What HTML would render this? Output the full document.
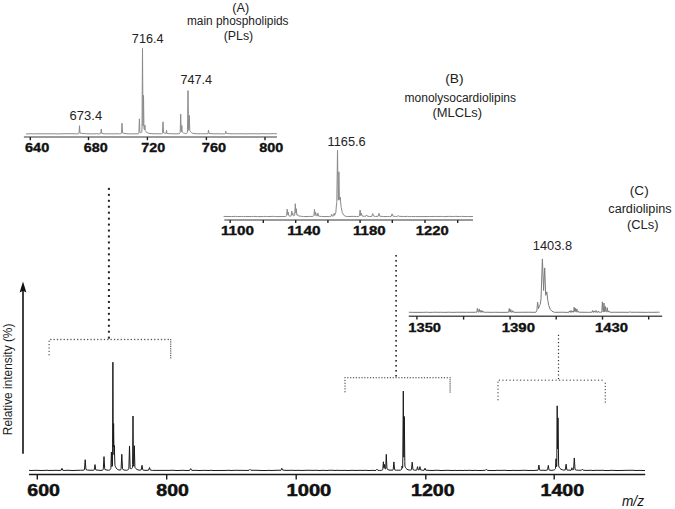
<!DOCTYPE html>
<html><head><meta charset="utf-8"><style>
html,body{margin:0;padding:0;background:#fff;}
body{width:675px;height:509px;overflow:hidden;}
svg{display:block;}
</style></head><body>
<svg width="675" height="509" viewBox="0 0 675 509">
<rect width="675" height="509" fill="#fff"/>
<path d="M29.00,470.29 L31.00,470.50 L35.00,470.33 L43.00,470.49 L47.00,470.26 L49.00,470.50 L51.00,470.38 L53.00,470.48 L55.00,470.25 L59.00,470.46 L61.00,470.24 L61.20,470.24 L62.00,468.33 L62.70,470.24 L64.90,470.48 L67.00,470.25 L73.00,470.53 L77.00,470.31 L80.50,470.28 L83.10,470.20 L84.20,469.93 L84.40,469.83 L84.50,469.03 L85.20,459.68 L85.90,469.05 L86.00,469.61 L87.30,470.04 L91.00,470.28 L93.50,470.20 L94.20,470.07 L94.30,469.64 L95.00,464.59 L95.70,469.65 L95.80,469.94 L98.10,470.19 L101.00,470.43 L102.40,470.16 L103.20,469.73 L103.30,468.70 L104.00,456.63 L104.70,468.71 L104.80,469.43 L106.00,469.89 L108.30,470.24 L109.10,470.21 L109.90,469.84 L110.50,469.22 L110.80,468.72 L110.90,467.43 L111.40,451.96 L111.80,464.25 L111.90,466.64 L112.20,466.05 L112.50,465.07 L112.60,443.31 L112.90,362.20 L113.20,443.27 L113.30,446.90 L113.60,423.51 L114.00,454.72 L114.30,445.53 L114.90,464.15 L115.00,465.45 L115.50,466.79 L116.10,467.95 L116.80,468.86 L117.70,469.54 L118.90,469.96 L120.00,470.02 L120.80,469.75 L121.00,469.62 L121.10,468.50 L121.80,454.27 L122.50,468.39 L122.60,469.18 L123.90,469.88 L125.10,470.22 L126.70,470.23 L127.70,469.95 L128.40,469.45 L128.80,468.94 L128.90,466.86 L129.50,445.96 L130.10,466.90 L130.20,468.28 L130.80,468.70 L131.40,468.75 L131.90,468.42 L132.30,467.81 L132.50,467.34 L132.60,464.44 L133.00,416.01 L133.40,464.46 L133.50,466.12 L133.70,466.19 L133.80,463.42 L134.30,445.71 L134.90,466.96 L135.10,467.53 L135.80,468.54 L136.70,469.32 L138.00,469.92 L139.20,470.15 L140.80,470.03 L141.20,469.95 L141.30,469.64 L142.00,465.29 L142.70,469.69 L142.80,469.93 L145.00,470.39 L148.10,470.25 L148.60,470.18 L149.50,467.53 L150.30,470.06 L152.30,470.39 L161.00,470.40 L169.00,470.40 L173.00,470.26 L177.00,470.54 L183.00,470.30 L187.00,470.54 L189.70,470.39 L190.70,468.62 L191.60,470.26 L193.00,470.46 L195.00,470.30 L199.00,470.53 L205.00,470.33 L209.00,470.54 L211.00,470.25 L213.00,470.49 L221.00,470.49 L227.00,470.38 L229.00,470.27 L231.00,470.51 L235.00,470.31 L247.00,470.43 L249.00,470.39 L250.00,469.31 L250.90,470.28 L257.00,470.30 L261.00,470.51 L267.00,470.49 L269.00,470.33 L271.00,470.50 L277.00,470.25 L279.00,470.24 L280.80,470.37 L281.80,468.32 L282.70,470.14 L287.00,470.43 L291.00,470.27 L295.00,470.41 L299.00,470.33 L301.00,470.46 L305.00,470.35 L309.00,470.26 L313.00,470.38 L317.00,470.28 L319.00,470.52 L323.00,470.31 L327.00,470.50 L329.00,470.26 L333.00,470.29 L335.00,470.47 L337.00,470.30 L341.00,470.45 L345.00,470.32 L347.00,470.54 L353.00,470.32 L355.00,470.44 L361.00,470.35 L363.00,470.44 L365.00,470.27 L369.00,470.54 L373.00,470.34 L375.00,470.49 L376.00,470.38 L377.00,469.24 L377.90,470.32 L379.40,470.47 L381.30,470.32 L382.30,470.01 L382.70,469.77 L382.80,469.16 L383.40,461.77 L383.90,467.90 L384.00,467.40 L384.40,464.44 L385.00,468.85 L385.30,468.97 L385.60,468.83 L385.70,468.03 L386.30,454.38 L386.90,467.98 L387.00,468.77 L388.00,469.59 L389.00,470.09 L391.00,470.10 L392.50,470.17 L393.10,470.04 L393.20,469.43 L393.90,461.92 L394.60,469.46 L394.70,469.89 L396.30,470.22 L398.80,470.21 L400.30,470.15 L401.00,469.92 L401.60,469.39 L401.70,468.99 L402.10,465.93 L402.30,467.46 L402.40,468.11 L402.70,467.42 L402.80,457.29 L403.30,391.03 L403.80,457.26 L403.90,452.51 L404.30,416.49 L404.80,461.47 L404.90,466.15 L405.40,467.29 L406.10,468.39 L406.90,469.17 L408.00,469.75 L409.60,470.08 L410.90,470.02 L411.40,469.87 L411.50,469.32 L412.20,462.13 L412.90,469.29 L413.00,469.68 L414.70,470.19 L416.30,470.20 L416.70,470.13 L416.80,469.92 L417.50,466.66 L418.20,469.87 L419.10,469.95 L419.20,469.84 L419.90,466.60 L420.60,469.82 L422.50,470.28 L424.10,470.26 L425.00,468.24 L425.80,470.13 L428.00,470.33 L433.00,470.52 L435.00,470.25 L439.00,470.35 L441.00,470.55 L447.00,470.31 L453.00,470.53 L455.00,470.35 L457.00,470.51 L461.00,470.40 L463.00,470.55 L465.00,470.32 L467.00,470.47 L469.00,470.28 L473.00,470.52 L475.00,470.31 L477.00,470.48 L481.00,470.50 L485.30,470.31 L486.30,469.24 L487.20,470.24 L489.00,470.49 L495.00,470.52 L497.00,470.29 L499.00,470.42 L505.00,470.27 L507.00,470.51 L511.00,470.50 L513.00,470.35 L517.00,470.48 L525.00,470.27 L529.00,470.52 L531.00,470.42 L533.00,470.53 L537.00,470.25 L538.10,470.15 L538.20,469.75 L538.90,465.08 L539.60,469.81 L539.70,470.10 L541.00,470.32 L543.00,470.20 L545.00,470.42 L547.40,470.06 L547.50,470.03 L547.60,469.67 L548.30,465.38 L549.00,469.67 L549.10,469.94 L551.00,470.40 L553.70,470.04 L554.60,469.69 L555.20,469.15 L555.40,468.88 L555.50,468.43 L556.00,458.73 L556.40,466.58 L556.50,466.87 L556.70,466.36 L556.80,463.34 L557.20,405.83 L557.50,448.94 L557.60,447.95 L558.00,417.86 L558.60,462.90 L558.70,465.99 L559.30,467.33 L560.00,468.37 L560.90,469.17 L562.10,469.76 L563.80,470.07 L565.30,469.97 L565.40,469.58 L566.10,464.21 L566.80,469.68 L566.90,469.99 L568.90,470.14 L570.90,470.33 L571.10,470.30 L571.20,470.17 L571.90,467.75 L572.50,469.73 L572.60,469.95 L573.50,469.66 L573.60,468.85 L574.30,457.98 L575.00,468.98 L575.10,469.58 L576.50,470.13 L578.70,470.26 L581.40,470.27 L582.40,469.17 L583.30,470.26 L587.00,470.44 L591.00,470.25 L593.00,470.54 L595.00,470.34 L601.00,470.34 L603.00,470.27 L605.00,470.52 L609.00,470.54 L611.00,470.28 L617.00,470.54 L623.00,470.45 L625.00,470.33 L633.00,470.27 L637.00,470.55 L639.00,470.38 L645.00,470.53" fill="none" stroke="#1a1a1a" stroke-width="1"/>
<line x1="29" y1="474.5" x2="645.2" y2="474.5" stroke="#1a1a1a" stroke-width="1.3"/>
<line x1="37.3" y1="474.5" x2="37.3" y2="479.4" stroke="#1a1a1a" stroke-width="1.4"/>
<line x1="166.7" y1="474.5" x2="166.7" y2="479.4" stroke="#1a1a1a" stroke-width="1.4"/>
<line x1="296.2" y1="474.5" x2="296.2" y2="479.4" stroke="#1a1a1a" stroke-width="1.4"/>
<line x1="425.8" y1="474.5" x2="425.8" y2="479.4" stroke="#1a1a1a" stroke-width="1.4"/>
<line x1="554.2" y1="474.5" x2="554.2" y2="479.4" stroke="#1a1a1a" stroke-width="1.4"/>
<line x1="23" y1="290" x2="23" y2="453.8" stroke="#111" stroke-width="1.6"/>
<path d="M23,281.6 L26.4,292.6 L23,290.8 L19.6,292.6 Z" fill="#111"/>
<text transform="translate(12.2,435.2) rotate(-90)" textLength="111.6" lengthAdjust="spacingAndGlyphs" style="font-family:&quot;Liberation Sans&quot;,sans-serif;font-size:12px" fill="#1a1a1a">Relative intensity (%)</text>
<path d="M26.10,133.91 L28.10,133.91 L30.10,133.69 L34.10,133.88 L40.10,133.75 L46.10,133.82 L52.10,133.77 L58.10,133.91 L66.10,133.69 L74.10,133.77 L76.10,133.89 L78.30,133.72 L78.90,133.52 L79.00,133.07 L79.50,125.71 L80.00,133.08 L81.80,133.48 L86.10,133.73 L92.10,133.92 L96.10,133.72 L98.40,133.89 L100.30,133.79 L100.70,133.69 L100.80,133.42 L101.30,128.96 L101.80,133.41 L104.10,133.77 L108.10,133.86 L110.10,133.76 L114.10,133.91 L116.10,133.72 L119.50,133.85 L120.80,133.71 L121.40,133.43 L121.50,132.85 L122.00,123.19 L122.50,132.83 L124.00,133.39 L128.10,133.86 L132.10,133.87 L134.10,133.76 L137.00,133.88 L138.10,133.76 L138.70,133.42 L138.80,133.31 L138.90,132.49 L139.40,118.83 L139.90,132.41 L140.70,132.80 L141.30,132.77 L141.70,132.39 L141.90,131.99 L142.00,126.05 L142.50,48.43 L143.00,126.09 L143.10,123.36 L143.50,95.38 L143.90,123.39 L144.00,128.81 L144.40,129.58 L144.60,129.79 L144.90,125.08 L145.20,129.87 L145.30,130.64 L146.00,131.67 L146.90,132.50 L148.10,133.12 L150.00,133.50 L154.10,133.82 L156.10,133.71 L158.10,133.90 L160.10,133.74 L161.60,133.77 L162.20,133.60 L162.40,133.44 L162.50,132.78 L163.00,121.83 L163.50,132.71 L165.10,133.36 L166.00,133.48 L166.50,130.40 L166.90,132.93 L167.00,133.41 L169.70,133.70 L176.10,133.82 L178.80,133.69 L179.60,133.46 L180.00,133.12 L180.10,132.99 L180.20,131.95 L180.70,114.15 L181.10,128.42 L181.20,131.69 L181.30,131.72 L181.40,131.51 L181.80,125.49 L182.20,131.54 L182.30,132.09 L183.30,132.88 L184.40,133.35 L185.80,133.54 L186.60,133.39 L187.10,132.96 L187.40,132.39 L187.50,129.82 L188.00,90.60 L188.50,129.82 L188.60,130.28 L188.80,130.33 L188.90,128.72 L189.30,115.31 L189.70,128.80 L189.80,130.67 L190.50,131.72 L191.40,132.55 L192.70,133.23 L194.10,133.61 L196.10,133.63 L198.10,133.83 L200.10,133.68 L202.10,133.83 L206.10,133.73 L207.70,133.77 L207.90,133.74 L208.00,133.56 L208.50,130.25 L209.00,133.48 L214.10,133.87 L218.10,133.73 L220.10,133.89 L224.10,133.84 L225.20,133.67 L225.30,133.54 L225.80,131.31 L226.30,133.48 L228.80,133.70 L232.10,133.83 L234.10,133.70 L236.10,133.91 L238.10,133.69 L240.10,133.85 L242.10,133.69 L246.10,133.88 L250.10,133.72 L254.10,133.77 L256.10,133.69 L258.10,133.92 L262.10,133.69 L268.10,133.86 L270.10,133.71 L274.10,133.69 L277.00,133.82" fill="none" stroke="#8a8a8a" stroke-width="1"/>
<line x1="23.9" y1="137" x2="277" y2="137" stroke="#7a7a7a" stroke-width="1.5"/>
<line x1="30.3" y1="137" x2="30.3" y2="140.2" stroke="#222" stroke-width="1.4"/>
<line x1="88.5" y1="137" x2="88.5" y2="140.2" stroke="#222" stroke-width="1.4"/>
<line x1="147.4" y1="137" x2="147.4" y2="140.2" stroke="#222" stroke-width="1.4"/>
<line x1="206.4" y1="137" x2="206.4" y2="140.2" stroke="#222" stroke-width="1.4"/>
<line x1="265" y1="137" x2="265" y2="140.2" stroke="#222" stroke-width="1.4"/>
<path d="M223.60,216.44 L231.60,216.53 L235.60,216.38 L237.60,216.58 L241.60,216.44 L243.60,216.62 L245.60,216.49 L251.60,216.53 L253.60,216.42 L257.60,216.59 L263.60,216.54 L265.60,216.40 L267.60,216.56 L273.60,216.39 L275.60,216.59 L283.10,216.55 L285.40,216.45 L286.40,216.12 L286.50,216.06 L286.60,215.50 L287.20,209.20 L287.70,214.39 L287.80,214.60 L288.20,212.10 L288.70,215.27 L288.80,215.82 L289.80,216.11 L290.90,216.03 L291.10,215.97 L291.20,215.73 L291.80,211.10 L292.30,214.99 L292.40,215.08 L292.80,213.16 L293.30,215.62 L293.60,215.83 L294.30,215.66 L294.60,215.47 L294.70,214.75 L295.30,203.69 L295.80,212.89 L295.90,213.22 L296.30,208.73 L296.80,214.25 L296.90,215.08 L297.20,215.22 L297.50,214.51 L297.90,215.45 L298.90,215.95 L301.30,216.33 L303.60,216.59 L309.60,216.45 L312.10,216.43 L313.40,216.18 L313.80,216.02 L313.90,215.46 L314.50,209.37 L315.10,215.45 L315.20,215.29 L315.70,212.37 L316.20,215.31 L316.30,215.80 L317.20,215.97 L317.90,213.12 L318.60,216.10 L321.50,216.53 L329.60,216.59 L330.90,216.44 L331.70,214.24 L332.40,216.20 L333.40,216.13 L333.50,216.03 L334.20,213.27 L334.70,215.31 L334.80,214.82 L335.80,212.59 L336.60,203.10 L336.70,202.77 L336.80,201.82 L337.50,150.11 L338.10,194.44 L338.20,200.11 L338.30,200.11 L338.40,199.81 L338.90,171.80 L339.40,199.80 L339.50,200.10 L340.20,199.20 L340.30,197.07 L340.40,199.23 L340.50,200.95 L341.20,207.53 L342.30,212.53 L343.80,215.24 L345.30,216.21 L347.60,216.53 L353.60,216.39 L356.60,216.58 L358.10,216.47 L359.30,216.08 L359.40,216.03 L359.50,215.50 L360.10,210.04 L360.70,215.58 L360.80,215.65 L361.40,213.16 L362.00,215.70 L362.10,216.06 L364.40,216.32 L365.70,216.30 L366.60,214.93 L367.40,216.28 L369.70,216.52 L371.60,216.48 L371.80,216.43 L372.70,213.58 L373.50,216.08 L375.60,216.46 L378.10,216.28 L379.00,213.30 L379.80,216.19 L383.60,216.57 L387.60,216.50 L389.60,216.60 L391.20,216.37 L392.10,213.84 L392.90,216.13 L395.60,216.48 L397.20,216.37 L398.20,215.60 L399.10,216.34 L403.60,216.52 L407.60,216.39 L409.60,216.59 L411.60,216.46 L415.60,216.60 L429.60,216.53 L435.60,216.48 L441.60,216.45 L443.60,216.61 L449.60,216.38 L453.60,216.52 L455.60,216.38 L459.60,216.53 L461.60,216.39 L467.60,216.54 L473.00,216.55" fill="none" stroke="#8a8a8a" stroke-width="1"/>
<line x1="224.3" y1="219.9" x2="473" y2="219.9" stroke="#7a7a7a" stroke-width="1.5"/>
<line x1="230.2" y1="219.9" x2="230.2" y2="223" stroke="#222" stroke-width="1.4"/>
<line x1="263.3" y1="219.9" x2="263.3" y2="223" stroke="#222" stroke-width="1.4"/>
<line x1="295.7" y1="219.9" x2="295.7" y2="223" stroke="#222" stroke-width="1.4"/>
<line x1="327.9" y1="219.9" x2="327.9" y2="223" stroke="#222" stroke-width="1.4"/>
<line x1="360.1" y1="219.9" x2="360.1" y2="223" stroke="#222" stroke-width="1.4"/>
<line x1="392.3" y1="219.9" x2="392.3" y2="223" stroke="#222" stroke-width="1.4"/>
<line x1="425" y1="219.9" x2="425" y2="223" stroke="#222" stroke-width="1.4"/>
<line x1="457.7" y1="219.9" x2="457.7" y2="223" stroke="#222" stroke-width="1.4"/>
<path d="M408.80,312.23 L412.80,312.35 L422.80,312.36 L426.80,312.21 L428.80,312.37 L432.80,312.35 L434.80,312.20 L438.80,312.34 L440.80,312.25 L444.80,312.38 L448.80,312.21 L452.80,312.39 L456.80,312.24 L466.80,312.30 L475.40,312.28 L476.80,312.19 L477.40,308.44 L477.90,311.60 L478.00,312.07 L478.70,312.07 L479.30,308.95 L479.80,311.74 L479.90,312.13 L480.40,312.20 L481.00,310.26 L481.50,312.00 L481.60,312.22 L482.20,312.23 L482.80,310.81 L483.30,312.07 L484.80,312.30 L486.80,312.23 L490.80,312.37 L494.80,312.27 L500.80,312.39 L507.10,312.32 L508.70,312.19 L509.30,308.47 L509.80,311.66 L509.90,312.13 L510.20,312.14 L510.80,309.52 L511.30,311.87 L511.40,312.19 L512.30,312.26 L512.90,310.68 L513.40,312.09 L514.10,312.32 L518.80,312.32 L522.80,312.25 L528.80,312.23 L534.80,312.33 L535.90,312.30 L536.90,310.28 L537.60,302.18 L538.50,308.59 L539.40,305.79 L540.30,304.30 L541.00,299.01 L542.40,258.94 L543.60,290.54 L544.70,267.91 L545.70,295.29 L546.80,291.88 L547.80,300.49 L548.80,305.60 L550.20,309.33 L552.00,311.31 L554.50,312.32 L562.80,312.23 L566.80,312.40 L568.80,312.33 L569.40,310.94 L569.90,312.10 L570.40,312.25 L571.00,310.41 L571.50,312.01 L571.60,312.24 L572.10,312.26 L572.70,310.97 L573.20,312.11 L573.60,312.17 L574.20,307.28 L574.70,311.42 L574.80,311.58 L575.30,308.26 L575.80,311.61 L575.90,312.02 L576.30,312.06 L576.40,311.72 L576.90,308.91 L577.40,311.76 L577.50,312.14 L577.80,312.16 L578.30,311.27 L578.80,312.21 L586.80,312.31 L588.80,312.39 L590.80,312.20 L592.10,312.27 L592.70,310.45 L593.20,312.04 L593.30,312.28 L593.60,312.28 L594.20,310.96 L594.70,312.13 L595.40,312.29 L596.00,310.47 L596.50,312.06 L596.60,312.29 L597.70,312.31 L598.30,311.06 L598.80,312.13 L600.40,312.33 L601.60,312.20 L601.80,312.13 L601.90,310.58 L602.40,301.82 L602.90,310.55 L603.00,311.84 L603.40,311.86 L603.50,310.76 L604.00,303.01 L604.50,310.76 L604.60,311.80 L604.80,311.83 L604.90,311.34 L605.40,306.50 L605.90,311.33 L606.00,311.92 L606.60,311.99 L606.70,311.52 L607.20,307.67 L607.70,311.49 L607.80,311.99 L608.30,312.04 L608.90,310.82 L609.40,312.03 L610.80,312.34 L614.80,312.24 L628.80,312.32 L629.40,312.30 L630.00,311.60 L630.60,312.27 L636.80,312.24 L646.80,312.36 L648.80,312.25 L652.80,312.33 L658.80,312.20 L659.60,312.26" fill="none" stroke="#7a7a7a" stroke-width="1"/>
<line x1="408.8" y1="316.2" x2="662.2" y2="316.2" stroke="#555" stroke-width="1.5"/>
<line x1="416.9" y1="316.2" x2="416.9" y2="319.6" stroke="#222" stroke-width="1.4"/>
<line x1="463.6" y1="316.2" x2="463.6" y2="319.6" stroke="#222" stroke-width="1.4"/>
<line x1="510.1" y1="316.2" x2="510.1" y2="319.6" stroke="#222" stroke-width="1.4"/>
<line x1="556.2" y1="316.2" x2="556.2" y2="319.6" stroke="#222" stroke-width="1.4"/>
<line x1="602.5" y1="316.2" x2="602.5" y2="319.6" stroke="#222" stroke-width="1.4"/>
<line x1="648.7" y1="316.2" x2="648.7" y2="319.6" stroke="#222" stroke-width="1.4"/>
<text x="27.32" y="495.60" textLength="32.68" lengthAdjust="spacingAndGlyphs" style="font-family:&quot;Liberation Sans&quot;,sans-serif;font-size:16.5px;font-weight:bold;font-style:normal" fill="#111" stroke="#111" stroke-width="0.5">600</text>
<text x="156.34" y="495.60" textLength="32.56" lengthAdjust="spacingAndGlyphs" style="font-family:&quot;Liberation Sans&quot;,sans-serif;font-size:16.5px;font-weight:bold;font-style:normal" fill="#111" stroke="#111" stroke-width="0.5">800</text>
<text x="286.52" y="495.60" textLength="44.82" lengthAdjust="spacingAndGlyphs" style="font-family:&quot;Liberation Sans&quot;,sans-serif;font-size:16.5px;font-weight:bold;font-style:normal" fill="#111" stroke="#111" stroke-width="0.5">1000</text>
<text x="411.08" y="495.60" textLength="43.58" lengthAdjust="spacingAndGlyphs" style="font-family:&quot;Liberation Sans&quot;,sans-serif;font-size:16.5px;font-weight:bold;font-style:normal" fill="#111" stroke="#111" stroke-width="0.5">1200</text>
<text x="540.54" y="495.60" textLength="43.58" lengthAdjust="spacingAndGlyphs" style="font-family:&quot;Liberation Sans&quot;,sans-serif;font-size:16.5px;font-weight:bold;font-style:normal" fill="#111" stroke="#111" stroke-width="0.5">1400</text>
<text x="622.00" y="505.80" textLength="22.00" lengthAdjust="spacingAndGlyphs" style="font-family:&quot;Liberation Sans&quot;,sans-serif;font-size:14px;font-weight:normal;font-style:italic" fill="#111">m/z</text>
<text x="25.00" y="152.40" textLength="24.22" lengthAdjust="spacingAndGlyphs" style="font-family:&quot;Liberation Sans&quot;,sans-serif;font-size:12.4px;font-weight:bold;font-style:normal" fill="#111" stroke="#111" stroke-width="0.35">640</text>
<text x="83.88" y="152.40" textLength="23.90" lengthAdjust="spacingAndGlyphs" style="font-family:&quot;Liberation Sans&quot;,sans-serif;font-size:12.4px;font-weight:bold;font-style:normal" fill="#111" stroke="#111" stroke-width="0.35">680</text>
<text x="141.32" y="152.40" textLength="23.80" lengthAdjust="spacingAndGlyphs" style="font-family:&quot;Liberation Sans&quot;,sans-serif;font-size:12.4px;font-weight:bold;font-style:normal" fill="#111" stroke="#111" stroke-width="0.35">720</text>
<text x="201.88" y="152.40" textLength="24.24" lengthAdjust="spacingAndGlyphs" style="font-family:&quot;Liberation Sans&quot;,sans-serif;font-size:12.4px;font-weight:bold;font-style:normal" fill="#111" stroke="#111" stroke-width="0.35">760</text>
<text x="259.22" y="152.40" textLength="24.00" lengthAdjust="spacingAndGlyphs" style="font-family:&quot;Liberation Sans&quot;,sans-serif;font-size:12.4px;font-weight:bold;font-style:normal" fill="#111" stroke="#111" stroke-width="0.35">800</text>
<text x="220.98" y="235.00" textLength="33.14" lengthAdjust="spacingAndGlyphs" style="font-family:&quot;Liberation Sans&quot;,sans-serif;font-size:12.4px;font-weight:bold;font-style:normal" fill="#111" stroke="#111" stroke-width="0.35">1100</text>
<text x="287.20" y="235.00" textLength="33.24" lengthAdjust="spacingAndGlyphs" style="font-family:&quot;Liberation Sans&quot;,sans-serif;font-size:12.4px;font-weight:bold;font-style:normal" fill="#111" stroke="#111" stroke-width="0.35">1140</text>
<text x="353.10" y="235.00" textLength="32.56" lengthAdjust="spacingAndGlyphs" style="font-family:&quot;Liberation Sans&quot;,sans-serif;font-size:12.4px;font-weight:bold;font-style:normal" fill="#111" stroke="#111" stroke-width="0.35">1180</text>
<text x="415.76" y="235.00" textLength="32.90" lengthAdjust="spacingAndGlyphs" style="font-family:&quot;Liberation Sans&quot;,sans-serif;font-size:12.4px;font-weight:bold;font-style:normal" fill="#111" stroke="#111" stroke-width="0.35">1220</text>
<text x="408.32" y="331.60" textLength="32.68" lengthAdjust="spacingAndGlyphs" style="font-family:&quot;Liberation Sans&quot;,sans-serif;font-size:12.4px;font-weight:bold;font-style:normal" fill="#111" stroke="#111" stroke-width="0.35">1350</text>
<text x="501.76" y="331.60" textLength="33.24" lengthAdjust="spacingAndGlyphs" style="font-family:&quot;Liberation Sans&quot;,sans-serif;font-size:12.4px;font-weight:bold;font-style:normal" fill="#111" stroke="#111" stroke-width="0.35">1390</text>
<text x="594.98" y="331.60" textLength="33.02" lengthAdjust="spacingAndGlyphs" style="font-family:&quot;Liberation Sans&quot;,sans-serif;font-size:12.4px;font-weight:bold;font-style:normal" fill="#111" stroke="#111" stroke-width="0.35">1430</text>
<text x="69.64" y="119.50" textLength="32.48" lengthAdjust="spacingAndGlyphs" style="font-family:&quot;Liberation Sans&quot;,sans-serif;font-size:12px;font-weight:normal;font-style:normal" fill="#222">673.4</text>
<text x="131.86" y="42.80" textLength="31.58" lengthAdjust="spacingAndGlyphs" style="font-family:&quot;Liberation Sans&quot;,sans-serif;font-size:12px;font-weight:normal;font-style:normal" fill="#222">716.4</text>
<text x="180.54" y="84.40" textLength="31.58" lengthAdjust="spacingAndGlyphs" style="font-family:&quot;Liberation Sans&quot;,sans-serif;font-size:12px;font-weight:normal;font-style:normal" fill="#222">747.4</text>
<text x="327.52" y="145.80" textLength="38.16" lengthAdjust="spacingAndGlyphs" style="font-family:&quot;Liberation Sans&quot;,sans-serif;font-size:12px;font-weight:normal;font-style:normal" fill="#222">1165.6</text>
<text x="532.86" y="249.90" textLength="39.16" lengthAdjust="spacingAndGlyphs" style="font-family:&quot;Liberation Sans&quot;,sans-serif;font-size:12px;font-weight:normal;font-style:normal" fill="#222">1403.8</text>
<text x="232.20" y="12.00" textLength="16.92" lengthAdjust="spacingAndGlyphs" style="font-family:&quot;Liberation Sans&quot;,sans-serif;font-size:12px;font-weight:normal;font-style:normal" fill="#222">(A)</text>
<text x="186.98" y="24.50" textLength="101.58" lengthAdjust="spacingAndGlyphs" style="font-family:&quot;Liberation Sans&quot;,sans-serif;font-size:12px;font-weight:normal;font-style:normal" fill="#222">main phospholipids</text>
<text x="223.76" y="39.50" textLength="29.48" lengthAdjust="spacingAndGlyphs" style="font-family:&quot;Liberation Sans&quot;,sans-serif;font-size:12px;font-weight:normal;font-style:normal" fill="#222">(PLs)</text>
<text x="445.20" y="83.00" textLength="18.38" lengthAdjust="spacingAndGlyphs" style="font-family:&quot;Liberation Sans&quot;,sans-serif;font-size:12px;font-weight:normal;font-style:normal" fill="#222">(B)</text>
<text x="404.54" y="101.70" textLength="111.48" lengthAdjust="spacingAndGlyphs" style="font-family:&quot;Liberation Sans&quot;,sans-serif;font-size:12px;font-weight:normal;font-style:normal" fill="#222">monolysocardiolipins</text>
<text x="432.54" y="117.00" textLength="49.48" lengthAdjust="spacingAndGlyphs" style="font-family:&quot;Liberation Sans&quot;,sans-serif;font-size:12px;font-weight:normal;font-style:normal" fill="#222">(MLCLs)</text>
<text x="629.86" y="194.70" textLength="18.82" lengthAdjust="spacingAndGlyphs" style="font-family:&quot;Liberation Sans&quot;,sans-serif;font-size:12px;font-weight:normal;font-style:normal" fill="#222">(C)</text>
<text x="608.32" y="213.10" textLength="63.24" lengthAdjust="spacingAndGlyphs" style="font-family:&quot;Liberation Sans&quot;,sans-serif;font-size:12px;font-weight:normal;font-style:normal" fill="#222">cardiolipins</text>
<text x="626.98" y="228.80" textLength="31.48" lengthAdjust="spacingAndGlyphs" style="font-family:&quot;Liberation Sans&quot;,sans-serif;font-size:12px;font-weight:normal;font-style:normal" fill="#222">(CLs)</text>
<rect x="107.90" y="187.90" width="2" height="2" fill="#222"/><rect x="107.90" y="193.85" width="2" height="2" fill="#222"/><rect x="107.90" y="199.80" width="2" height="2" fill="#222"/><rect x="107.90" y="205.75" width="2" height="2" fill="#222"/><rect x="107.90" y="211.70" width="2" height="2" fill="#222"/><rect x="107.90" y="217.65" width="2" height="2" fill="#222"/><rect x="107.90" y="223.60" width="2" height="2" fill="#222"/><rect x="107.90" y="229.55" width="2" height="2" fill="#222"/><rect x="107.90" y="235.50" width="2" height="2" fill="#222"/><rect x="107.90" y="241.45" width="2" height="2" fill="#222"/><rect x="107.90" y="247.40" width="2" height="2" fill="#222"/><rect x="107.90" y="253.35" width="2" height="2" fill="#222"/><rect x="107.90" y="259.30" width="2" height="2" fill="#222"/><rect x="107.90" y="265.25" width="2" height="2" fill="#222"/><rect x="107.90" y="271.20" width="2" height="2" fill="#222"/><rect x="107.90" y="277.15" width="2" height="2" fill="#222"/><rect x="107.90" y="283.10" width="2" height="2" fill="#222"/><rect x="107.90" y="289.05" width="2" height="2" fill="#222"/><rect x="107.90" y="295.00" width="2" height="2" fill="#222"/><rect x="107.90" y="300.95" width="2" height="2" fill="#222"/><rect x="107.90" y="306.90" width="2" height="2" fill="#222"/><rect x="107.90" y="312.85" width="2" height="2" fill="#222"/><rect x="107.90" y="318.80" width="2" height="2" fill="#222"/><rect x="107.90" y="324.75" width="2" height="2" fill="#222"/><rect x="107.90" y="330.70" width="2" height="2" fill="#222"/><rect x="107.90" y="336.65" width="2" height="2" fill="#222"/>
<rect x="50.15" y="338.85" width="1.3" height="1.3" fill="#555"/><rect x="53.50" y="338.85" width="1.3" height="1.3" fill="#555"/><rect x="56.86" y="338.85" width="1.3" height="1.3" fill="#555"/><rect x="60.21" y="338.85" width="1.3" height="1.3" fill="#555"/><rect x="63.57" y="338.85" width="1.3" height="1.3" fill="#555"/><rect x="66.92" y="338.85" width="1.3" height="1.3" fill="#555"/><rect x="70.28" y="338.85" width="1.3" height="1.3" fill="#555"/><rect x="73.63" y="338.85" width="1.3" height="1.3" fill="#555"/><rect x="76.99" y="338.85" width="1.3" height="1.3" fill="#555"/><rect x="80.34" y="338.85" width="1.3" height="1.3" fill="#555"/><rect x="83.70" y="338.85" width="1.3" height="1.3" fill="#555"/><rect x="87.06" y="338.85" width="1.3" height="1.3" fill="#555"/><rect x="90.41" y="338.85" width="1.3" height="1.3" fill="#555"/><rect x="93.77" y="338.85" width="1.3" height="1.3" fill="#555"/><rect x="97.12" y="338.85" width="1.3" height="1.3" fill="#555"/><rect x="100.48" y="338.85" width="1.3" height="1.3" fill="#555"/><rect x="103.83" y="338.85" width="1.3" height="1.3" fill="#555"/><rect x="107.19" y="338.85" width="1.3" height="1.3" fill="#555"/><rect x="110.54" y="338.85" width="1.3" height="1.3" fill="#555"/><rect x="113.90" y="338.85" width="1.3" height="1.3" fill="#555"/><rect x="117.25" y="338.85" width="1.3" height="1.3" fill="#555"/><rect x="120.61" y="338.85" width="1.3" height="1.3" fill="#555"/><rect x="123.96" y="338.85" width="1.3" height="1.3" fill="#555"/><rect x="127.32" y="338.85" width="1.3" height="1.3" fill="#555"/><rect x="130.67" y="338.85" width="1.3" height="1.3" fill="#555"/><rect x="134.03" y="338.85" width="1.3" height="1.3" fill="#555"/><rect x="137.38" y="338.85" width="1.3" height="1.3" fill="#555"/><rect x="140.74" y="338.85" width="1.3" height="1.3" fill="#555"/><rect x="144.09" y="338.85" width="1.3" height="1.3" fill="#555"/><rect x="147.44" y="338.85" width="1.3" height="1.3" fill="#555"/><rect x="150.80" y="338.85" width="1.3" height="1.3" fill="#555"/><rect x="154.15" y="338.85" width="1.3" height="1.3" fill="#555"/><rect x="157.51" y="338.85" width="1.3" height="1.3" fill="#555"/><rect x="160.86" y="338.85" width="1.3" height="1.3" fill="#555"/><rect x="164.22" y="338.85" width="1.3" height="1.3" fill="#555"/><rect x="167.57" y="338.85" width="1.3" height="1.3" fill="#555"/>
<rect x="48.50" y="340.70" width="1.2" height="1.2" fill="#555"/><rect x="48.50" y="344.05" width="1.2" height="1.2" fill="#555"/><rect x="48.50" y="347.40" width="1.2" height="1.2" fill="#555"/><rect x="48.50" y="350.75" width="1.2" height="1.2" fill="#555"/><rect x="48.50" y="354.10" width="1.2" height="1.2" fill="#555"/>
<rect x="170.10" y="339.00" width="1.2" height="1.2" fill="#555"/><rect x="170.10" y="341.27" width="1.2" height="1.2" fill="#555"/><rect x="170.10" y="343.55" width="1.2" height="1.2" fill="#555"/><rect x="170.10" y="345.82" width="1.2" height="1.2" fill="#555"/><rect x="170.10" y="348.10" width="1.2" height="1.2" fill="#555"/><rect x="170.10" y="350.37" width="1.2" height="1.2" fill="#555"/><rect x="170.10" y="352.65" width="1.2" height="1.2" fill="#555"/><rect x="170.10" y="354.92" width="1.2" height="1.2" fill="#555"/><rect x="170.10" y="357.20" width="1.2" height="1.2" fill="#555"/>
<rect x="395.30" y="255.00" width="1.6" height="1.6" fill="#222"/><rect x="395.30" y="260.00" width="1.6" height="1.6" fill="#222"/><rect x="395.30" y="265.00" width="1.6" height="1.6" fill="#222"/><rect x="395.30" y="270.00" width="1.6" height="1.6" fill="#222"/><rect x="395.30" y="275.00" width="1.6" height="1.6" fill="#222"/><rect x="395.30" y="280.00" width="1.6" height="1.6" fill="#222"/><rect x="395.30" y="285.00" width="1.6" height="1.6" fill="#222"/><rect x="395.30" y="290.00" width="1.6" height="1.6" fill="#222"/><rect x="395.30" y="295.00" width="1.6" height="1.6" fill="#222"/><rect x="395.30" y="300.00" width="1.6" height="1.6" fill="#222"/><rect x="395.30" y="305.00" width="1.6" height="1.6" fill="#222"/><rect x="395.30" y="310.00" width="1.6" height="1.6" fill="#222"/><rect x="395.30" y="315.00" width="1.6" height="1.6" fill="#222"/><rect x="395.30" y="320.00" width="1.6" height="1.6" fill="#222"/><rect x="395.30" y="325.00" width="1.6" height="1.6" fill="#222"/><rect x="395.30" y="330.00" width="1.6" height="1.6" fill="#222"/><rect x="395.30" y="335.00" width="1.6" height="1.6" fill="#222"/><rect x="395.30" y="340.00" width="1.6" height="1.6" fill="#222"/><rect x="395.30" y="345.00" width="1.6" height="1.6" fill="#222"/><rect x="395.30" y="350.00" width="1.6" height="1.6" fill="#222"/><rect x="395.30" y="355.00" width="1.6" height="1.6" fill="#222"/><rect x="395.30" y="360.00" width="1.6" height="1.6" fill="#222"/><rect x="395.30" y="365.00" width="1.6" height="1.6" fill="#222"/><rect x="395.30" y="370.00" width="1.6" height="1.6" fill="#222"/><rect x="395.30" y="375.00" width="1.6" height="1.6" fill="#222"/>
<rect x="344.40" y="377.10" width="1.2" height="1.2" fill="#555"/><rect x="347.24" y="377.10" width="1.2" height="1.2" fill="#555"/><rect x="350.08" y="377.10" width="1.2" height="1.2" fill="#555"/><rect x="352.92" y="377.10" width="1.2" height="1.2" fill="#555"/><rect x="355.76" y="377.10" width="1.2" height="1.2" fill="#555"/><rect x="358.60" y="377.10" width="1.2" height="1.2" fill="#555"/><rect x="361.44" y="377.10" width="1.2" height="1.2" fill="#555"/><rect x="364.28" y="377.10" width="1.2" height="1.2" fill="#555"/><rect x="367.12" y="377.10" width="1.2" height="1.2" fill="#555"/><rect x="369.96" y="377.10" width="1.2" height="1.2" fill="#555"/><rect x="372.80" y="377.10" width="1.2" height="1.2" fill="#555"/><rect x="375.64" y="377.10" width="1.2" height="1.2" fill="#555"/><rect x="378.48" y="377.10" width="1.2" height="1.2" fill="#555"/><rect x="381.32" y="377.10" width="1.2" height="1.2" fill="#555"/><rect x="384.16" y="377.10" width="1.2" height="1.2" fill="#555"/><rect x="387.00" y="377.10" width="1.2" height="1.2" fill="#555"/><rect x="389.84" y="377.10" width="1.2" height="1.2" fill="#555"/><rect x="392.68" y="377.10" width="1.2" height="1.2" fill="#555"/><rect x="395.52" y="377.10" width="1.2" height="1.2" fill="#555"/><rect x="398.36" y="377.10" width="1.2" height="1.2" fill="#555"/><rect x="401.20" y="377.10" width="1.2" height="1.2" fill="#555"/><rect x="404.04" y="377.10" width="1.2" height="1.2" fill="#555"/><rect x="406.88" y="377.10" width="1.2" height="1.2" fill="#555"/><rect x="409.72" y="377.10" width="1.2" height="1.2" fill="#555"/><rect x="412.56" y="377.10" width="1.2" height="1.2" fill="#555"/><rect x="415.40" y="377.10" width="1.2" height="1.2" fill="#555"/><rect x="418.24" y="377.10" width="1.2" height="1.2" fill="#555"/><rect x="421.08" y="377.10" width="1.2" height="1.2" fill="#555"/><rect x="423.92" y="377.10" width="1.2" height="1.2" fill="#555"/><rect x="426.76" y="377.10" width="1.2" height="1.2" fill="#555"/><rect x="429.60" y="377.10" width="1.2" height="1.2" fill="#555"/><rect x="432.44" y="377.10" width="1.2" height="1.2" fill="#555"/><rect x="435.28" y="377.10" width="1.2" height="1.2" fill="#555"/><rect x="438.12" y="377.10" width="1.2" height="1.2" fill="#555"/><rect x="440.96" y="377.10" width="1.2" height="1.2" fill="#555"/><rect x="443.80" y="377.10" width="1.2" height="1.2" fill="#555"/><rect x="446.64" y="377.10" width="1.2" height="1.2" fill="#555"/><rect x="449.48" y="377.10" width="1.2" height="1.2" fill="#555"/>
<rect x="344.40" y="379.90" width="1.2" height="1.2" fill="#555"/><rect x="344.40" y="382.70" width="1.2" height="1.2" fill="#555"/><rect x="344.40" y="385.50" width="1.2" height="1.2" fill="#555"/><rect x="344.40" y="388.30" width="1.2" height="1.2" fill="#555"/><rect x="344.40" y="391.10" width="1.2" height="1.2" fill="#555"/>
<rect x="449.50" y="379.10" width="1.2" height="1.2" fill="#555"/><rect x="449.50" y="381.16" width="1.2" height="1.2" fill="#555"/><rect x="449.50" y="383.22" width="1.2" height="1.2" fill="#555"/><rect x="449.50" y="385.28" width="1.2" height="1.2" fill="#555"/><rect x="449.50" y="387.34" width="1.2" height="1.2" fill="#555"/><rect x="449.50" y="389.40" width="1.2" height="1.2" fill="#555"/><rect x="449.50" y="391.46" width="1.2" height="1.2" fill="#555"/>
<rect x="557.90" y="334.80" width="1.2" height="1.2" fill="#333"/><rect x="557.90" y="338.40" width="1.2" height="1.2" fill="#333"/><rect x="557.90" y="342.00" width="1.2" height="1.2" fill="#333"/><rect x="557.90" y="345.60" width="1.2" height="1.2" fill="#333"/><rect x="557.90" y="349.20" width="1.2" height="1.2" fill="#333"/><rect x="557.90" y="352.80" width="1.2" height="1.2" fill="#333"/><rect x="557.90" y="356.40" width="1.2" height="1.2" fill="#333"/><rect x="557.90" y="360.00" width="1.2" height="1.2" fill="#333"/><rect x="557.90" y="363.60" width="1.2" height="1.2" fill="#333"/><rect x="557.90" y="367.20" width="1.2" height="1.2" fill="#333"/><rect x="557.90" y="370.80" width="1.2" height="1.2" fill="#333"/><rect x="557.90" y="374.40" width="1.2" height="1.2" fill="#333"/><rect x="557.90" y="378.00" width="1.2" height="1.2" fill="#333"/>
<rect x="498.80" y="379.60" width="1.2" height="1.2" fill="#555"/><rect x="502.34" y="379.60" width="1.2" height="1.2" fill="#555"/><rect x="505.88" y="379.60" width="1.2" height="1.2" fill="#555"/><rect x="509.42" y="379.60" width="1.2" height="1.2" fill="#555"/><rect x="512.96" y="379.60" width="1.2" height="1.2" fill="#555"/><rect x="516.50" y="379.60" width="1.2" height="1.2" fill="#555"/><rect x="520.04" y="379.60" width="1.2" height="1.2" fill="#555"/><rect x="523.58" y="379.60" width="1.2" height="1.2" fill="#555"/><rect x="527.12" y="379.60" width="1.2" height="1.2" fill="#555"/><rect x="530.66" y="379.60" width="1.2" height="1.2" fill="#555"/><rect x="534.20" y="379.60" width="1.2" height="1.2" fill="#555"/><rect x="537.74" y="379.60" width="1.2" height="1.2" fill="#555"/><rect x="541.28" y="379.60" width="1.2" height="1.2" fill="#555"/><rect x="544.82" y="379.60" width="1.2" height="1.2" fill="#555"/><rect x="548.36" y="379.60" width="1.2" height="1.2" fill="#555"/><rect x="551.90" y="379.60" width="1.2" height="1.2" fill="#555"/><rect x="555.44" y="379.60" width="1.2" height="1.2" fill="#555"/><rect x="558.98" y="379.60" width="1.2" height="1.2" fill="#555"/><rect x="562.52" y="379.60" width="1.2" height="1.2" fill="#555"/><rect x="566.06" y="379.60" width="1.2" height="1.2" fill="#555"/><rect x="569.60" y="379.60" width="1.2" height="1.2" fill="#555"/><rect x="573.14" y="379.60" width="1.2" height="1.2" fill="#555"/><rect x="576.68" y="379.60" width="1.2" height="1.2" fill="#555"/><rect x="580.22" y="379.60" width="1.2" height="1.2" fill="#555"/><rect x="583.76" y="379.60" width="1.2" height="1.2" fill="#555"/><rect x="587.30" y="379.60" width="1.2" height="1.2" fill="#555"/><rect x="590.84" y="379.60" width="1.2" height="1.2" fill="#555"/><rect x="594.38" y="379.60" width="1.2" height="1.2" fill="#555"/><rect x="597.92" y="379.60" width="1.2" height="1.2" fill="#555"/><rect x="601.46" y="379.60" width="1.2" height="1.2" fill="#555"/>
<rect x="497.40" y="381.60" width="1.2" height="1.2" fill="#555"/><rect x="497.40" y="385.10" width="1.2" height="1.2" fill="#555"/><rect x="497.40" y="388.60" width="1.2" height="1.2" fill="#555"/><rect x="497.40" y="392.10" width="1.2" height="1.2" fill="#555"/><rect x="497.40" y="395.60" width="1.2" height="1.2" fill="#555"/><rect x="497.40" y="399.10" width="1.2" height="1.2" fill="#555"/>
<rect x="604.70" y="382.70" width="1.2" height="1.2" fill="#555"/><rect x="604.70" y="385.84" width="1.2" height="1.2" fill="#555"/><rect x="604.70" y="388.98" width="1.2" height="1.2" fill="#555"/><rect x="604.70" y="392.12" width="1.2" height="1.2" fill="#555"/><rect x="604.70" y="395.26" width="1.2" height="1.2" fill="#555"/><rect x="604.70" y="398.40" width="1.2" height="1.2" fill="#555"/><rect x="604.70" y="401.54" width="1.2" height="1.2" fill="#555"/>
</svg>
</body></html>
